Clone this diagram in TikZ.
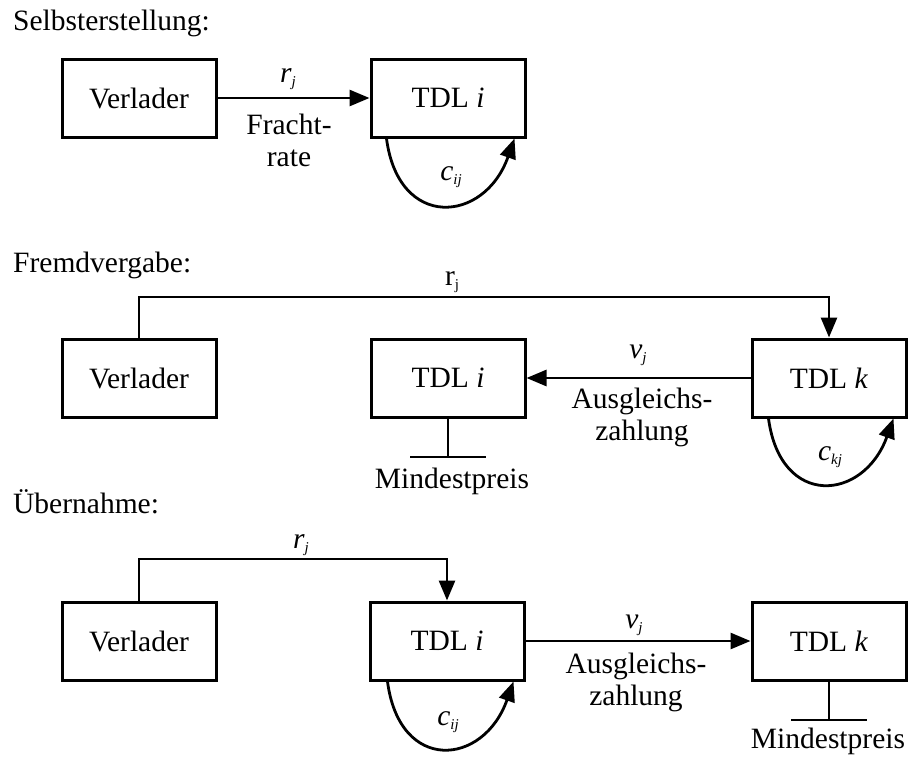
\documentclass[tikz,border=0pt]{standalone}
\usepackage{fontspec}
\setmainfont{Liberation Serif}
\usetikzlibrary{arrows.meta}
% small lowered index, e.g. the j in r_j
\newcommand\lowsub[1]{\raisebox{-4.5pt}{\fontsize{15}{15}\selectfont #1}}

\begin{document}
\begin{tikzpicture}[x=1pt,y=-1pt,
  every node/.style={font=\fontsize{29.5}{32}\selectfont, inner sep=0pt},
  box/.style={draw, line width=3pt, minimum width=154pt, minimum height=78pt},
  link/.style={line width=2.8pt},
  flow/.style={link, -{Triangle[length=20pt,width=16pt]}},
  title/.style={anchor=base west},
  lbl/.style={anchor=base},
  % two-line captions: anchored at the baseline of the last line
  twoline/.style={anchor=base, align=center}]
\useasboundingbox (0,0) rectangle (916,756);

% --- Selbsterstellung ---
\node[title] (t1) at (13,30) {Selbsterstellung:};
\node[box] (v1) at (139,98) {Verlader};
\node[box] (i1) at (448,98) {TDL \textit{i}};
\draw[flow] (v1) -- (i1);
\node[lbl] (r1) at (288,82) {\textit{r}\lowsub{\textit{j}}};
\node[twoline] (f1) at (289,166) {Fracht-\\rate};
\draw[flow] ([xshift=17pt]i1.south west) .. controls +(12,92) and +(-30,85) .. ([xshift=-12pt]i1.south east);
\node[lbl] (c1) at (451,180) {\textit{c}\lowsub{\textit{ij}}};

% --- Fremdvergabe ---
\node[title] (t2) at (13,272) {Fremdvergabe:};
\node[box] (v2) at (139,378) {Verlader};
\node[box] (i2) at (448,378) {TDL \textit{i}};
\node[box] (k2) at (829,378) {TDL \textit{k}};
\coordinate (top2) at (139,297);
\draw[flow] (v2.north) -- (top2) -| (k2.north);
\node[lbl] (r2) at (452,285) {r\lowsub{j}};
\draw[flow] (k2) -- (i2);
\node[lbl] (vj2) at (638,358) {\textit{v}\lowsub{\textit{j}}};
\node[twoline] (a2) at (642,440) {Ausgleichs-\\zahlung};
\coordinate (foot2) at (448,457);
\draw[link] (i2.south) -- (foot2);
\draw[link] ([xshift=-38pt]foot2) -- ([xshift=38pt]foot2);
\node[lbl] (m2) at (452,488) {Mindestpreis};
\draw[flow] ([xshift=18pt]k2.south west) .. controls +(12,90) and +(-30,83) .. ([xshift=-14pt]k2.south east);
\node[lbl] (c2) at (830,460) {\textit{c}\lowsub{\textit{kj}}};

% --- Übernahme ---
\node[title] (t3) at (13,513) {Übernahme:};
\node[box] (v3) at (139,641) {Verlader};
\node[box] (i3) at (447,641) {TDL \textit{i}};
\node[box] (k3) at (829,641) {TDL \textit{k}};
\coordinate (top3) at (139,559);
\draw[flow] (v3.north) -- (top3) -| (i3.north);
\node[lbl] (r3) at (301,548) {\textit{r}\lowsub{\textit{j}}};
\draw[flow] (i3) -- (k3);
\node[lbl] (vj3) at (634,628) {\textit{v}\lowsub{\textit{j}}};
\node[twoline] (a3) at (636,705) {Ausgleichs-\\zahlung};
\coordinate (foot3) at (829,720);
\draw[link] (k3.south) -- (foot3);
\draw[link] ([xshift=-38pt]foot3) -- ([xshift=38pt]foot3);
\node[lbl] (m3) at (828,748) {Mindestpreis};
\draw[flow] ([xshift=19pt]i3.south west) .. controls +(12,92) and +(-30,85) .. ([xshift=-12pt]i3.south east);
\node[lbl] (c3) at (448,725) {\textit{c}\lowsub{\textit{ij}}};
\end{tikzpicture}
\end{document}
